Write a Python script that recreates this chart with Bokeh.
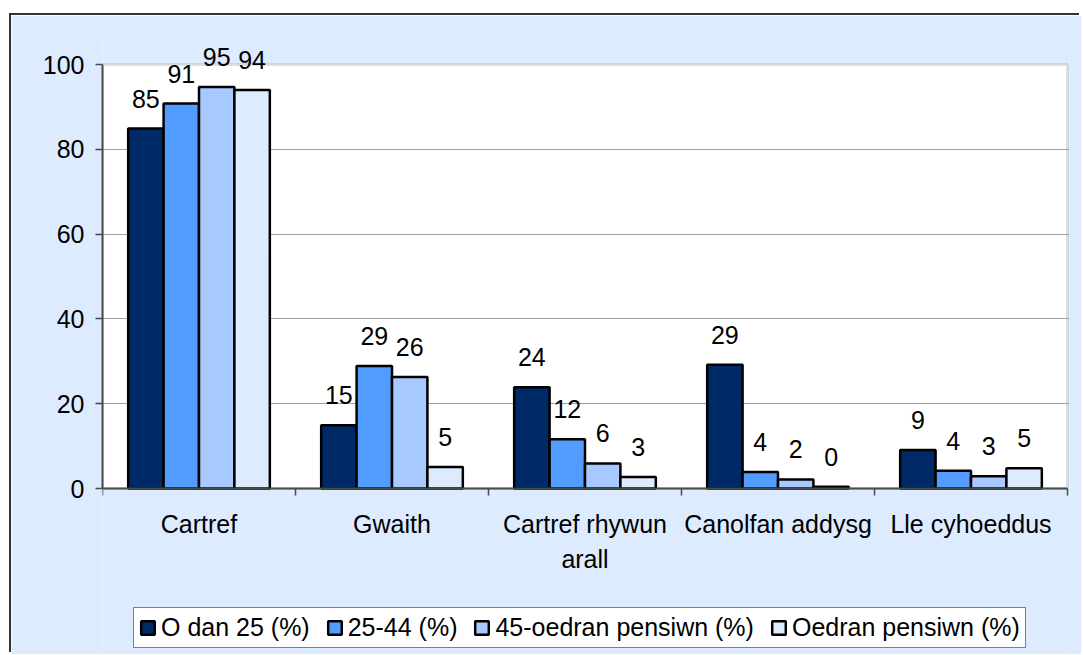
from bokeh.plotting import figure
from bokeh.models import (ColumnDataSource, Range1d, FixedTicker, LinearAxis,
                          LabelSet, Legend, LegendItem, Grid, BoxAnnotation)
from bokeh.core.properties import value
from bokeh.embed import file_html
from bokeh.resources import INLINE

categories = ["Cartref", "Gwaith", "Cartref rhywun arall", "Canolfan addysg", "Lle cyhoeddus"]
category_labels = ["Cartref", "Gwaith", "Cartref rhywun\narall", "Canolfan addysg", "Lle cyhoeddus"]
series_names = ["O dan 25 (%)", "25-44 (%)", "45-oedran pensiwn (%)", "Oedran pensiwn (%)"]
under_25 = [84.9, 14.9, 23.9, 29.2, 9.1]
age_25_44 = [90.8, 28.9, 11.6, 3.9, 4.2]
age_45_pension = [94.7, 26.3, 5.9, 2.15, 2.9]
pension_age = [94.0, 5.05, 2.7, 0.4, 4.8]
series_values = [under_25, age_25_44, age_45_pension, pension_age]
y_ticks = [0, 20, 40, 60, 80, 100]

colors = ["#002A66", "#529BFF", "#A6CAFF", "#DDEBFF"]
outer_bg = "#DDEBFF"
FONT = "Liberation Sans"
FS = "25px"

# layout (pixels, inside the figure)
W, H = 1070, 639
FL, FR, FT = 91, 1058, 21        # frame edges
ZERO_Y = 473                     # pixel row of value 0
PX_PER_CAT = 193.0
PX_PER_UNIT = 4.24
n = len(categories)

p = figure(width=W, height=H, output_backend="svg", toolbar_location=None,
           x_range=Range1d(0, (FR - FL) / PX_PER_CAT),
           y_range=Range1d(-(H - ZERO_Y) / PX_PER_UNIT, (ZERO_Y - FT) / PX_PER_UNIT),
           min_border_left=FL, min_border_right=W - FR, min_border_top=FT,
           min_border_bottom=0, x_axis_location=None, y_axis_location=None)
p.center = [r for r in p.center if not isinstance(r, Grid)]
p.styles = {"position": "relative", "left": "11px", "top": "15px",
            "box-shadow": "-2px -2px 0 0 #333333"}
p.border_fill_color = outer_bg
p.background_fill_color = outer_bg
p.outline_line_color = None

# white plot area with grey border
p.add_layout(BoxAnnotation(left=0, right=n, bottom=0, top=100, level="underlay",
                           fill_color="white", fill_alpha=1,
                           line_color="#A0A0A0", line_width=3))
p.add_layout(Grid(dimension=1, ticker=FixedTicker(ticks=y_ticks[1:-1]),
                  grid_line_color="#A0A0A0", grid_line_width=1, level="underlay",
                  bounds=(0, n)))

# y axis
yaxis = LinearAxis(ticker=FixedTicker(ticks=y_ticks, minor_ticks=[]), bounds=(0, 100))
yaxis.axis_line_color = "#4A4A4A"
yaxis.axis_line_width = 2
yaxis.major_tick_line_color = "#4A4A4A"
yaxis.major_tick_line_width = 1.5
yaxis.major_tick_out = 7
yaxis.major_tick_in = 0
yaxis.minor_tick_line_color = None
yaxis.major_label_text_font = FONT
yaxis.major_label_text_font_size = FS
yaxis.major_label_text_color = "black"
yaxis.major_label_standoff = 11
p.add_layout(yaxis, "left")

# x axis at value 0: labels at centres, tick marks at boundaries
centres = [i + 0.5 for i in range(n)]
bounds = [float(i) for i in range(n + 1)]
xaxis = LinearAxis(ticker=FixedTicker(ticks=centres, minor_ticks=bounds), bounds=(0, n),
                   fixed_location=0)
xaxis.major_label_overrides = {c: lab for c, lab in zip(centres, category_labels)}
xaxis.axis_line_color = "#4A4A4A"
xaxis.axis_line_width = 2
xaxis.major_tick_line_color = None
xaxis.major_tick_out = 0
xaxis.major_tick_in = 0
xaxis.minor_tick_line_color = "#4A4A4A"
xaxis.minor_tick_line_width = 1.5
xaxis.minor_tick_out = 7
xaxis.minor_tick_in = 0
xaxis.major_label_text_font = FONT
xaxis.major_label_text_font_size = FS
xaxis.major_label_text_color = "black"
xaxis.major_label_text_line_height = 1.25
xaxis.major_label_standoff = 14
p.add_layout(xaxis, "below")

bar_w = 0.1835
items = []
for k, (name, vals, col) in enumerate(zip(series_names, series_values, colors)):
    off = (k - 1.5) * bar_w
    src = ColumnDataSource(dict(
        x=[i + 0.5 + off for i in range(n)],
        top=vals,
        label=[f"{v:.0f}" for v in vals],
    ))
    r = p.vbar(x="x", top="top", width=bar_w, bottom=0, source=src,
               fill_color=col, line_color="black", line_width=2.5)
    items.append(LegendItem(label=name, renderers=[r]))
    p.add_layout(LabelSet(x="x", y="top", text="label", source=src,
                          text_align="center", text_baseline="alphabetic",
                          y_offset=21, text_font=value(FONT), text_font_size=FS,
                          text_color="black"))

legend = Legend(items=items, orientation="horizontal", location=(31, 6))
legend.label_text_font = FONT
legend.label_text_font_size = FS
legend.label_text_color = "black"
legend.glyph_width = 17
legend.glyph_height = 17
legend.label_standoff = 5
legend.spacing = 16
legend.padding = 5
legend.margin = 0
legend.border_line_color = "black"
legend.border_line_width = 1
legend.background_fill_color = "white"
legend.background_fill_alpha = 1
p.add_layout(legend, "center")

open("out.html", "w").write(file_html(p, INLINE))
